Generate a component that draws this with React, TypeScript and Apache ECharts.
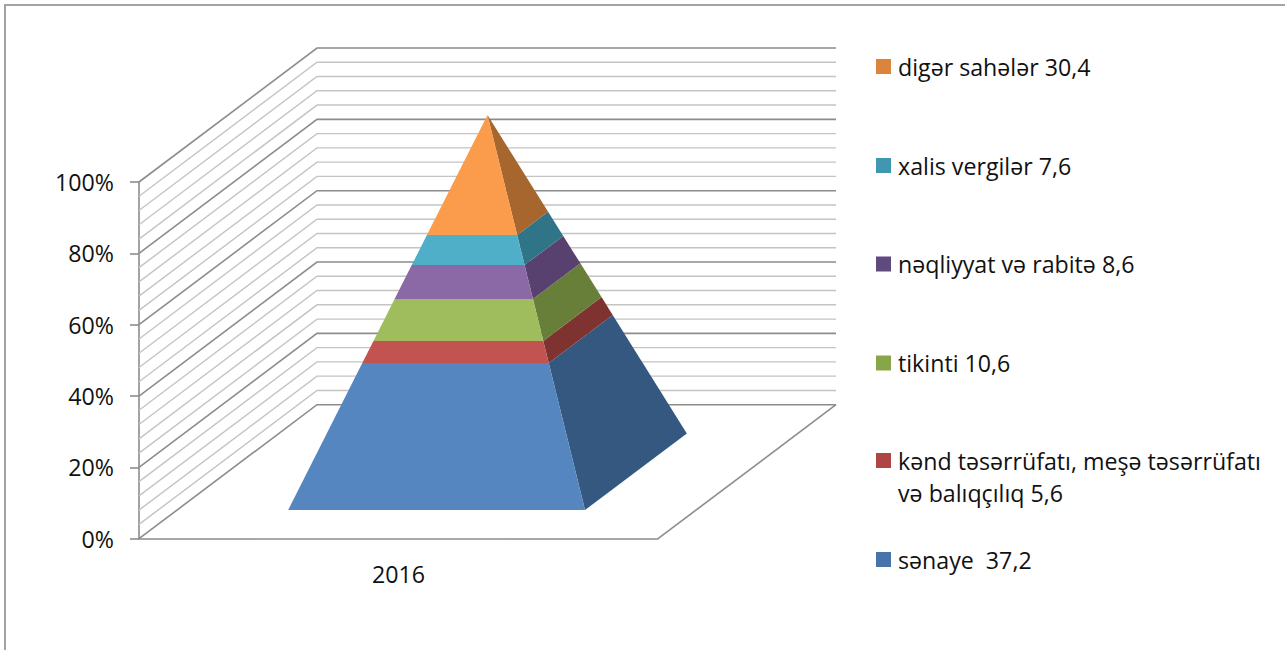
import React, { useEffect, useRef } from "react";
import * as echarts from "echarts";

const years = ["2016"];
const seriesNames = [
  "sənaye  37,2",
  "kənd təsərrüfatı, meşə təsərrüfatı",
  "tikinti 10,6",
  "nəqliyyat və rabitə 8,6",
  "xalis vergilər 7,6",
  "digər sahələr 30,4",
];
const seriesValues = [37.2, 5.6, 10.6, 8.6, 7.6, 30.4];
const legendContinuation = "və balıqçılıq 5,6";
const legendColors = ["#4774aa", "#ae4744", "#88a54c", "#5f4a80", "#3f98b0", "#dd843c"];
const frontColors = ["#5586bf", "#c25350", "#a0bd5e", "#8a69a6", "#4fafc8", "#fb9c4c"];
const sideColors = ["#355880", "#7f3331", "#687f3a", "#59416f", "#2f7487", "#a7662e"];
const wallTicks = [0, 4, 8, 12, 16, 20, 24, 28, 32, 36, 40, 44, 48, 52, 56, 60, 64, 68, 72, 76, 80, 84, 88, 92, 96, 100];
const legendCentres = [559.5, 460.5, 363, 264, 165.5, 66.5];

const FONT = "Open Sans";
const FONT_SIZE = 23.2;
const DEPTH_X = 178;
const DEPTH_Y = -134;
const PYRAMID_HALF = 0.286;
const MAJOR = "#8c8c8c";
const MINOR = "#c4c4c4";

function cumulative(values: number[]) {
  let sum = 0;
  return values.map((v) => {
    const start = sum;
    sum += v;
    return [years[0], start, sum];
  });
}

// Floor position (u across, w into the depth, both 0..1) and value => pixel
function project(api: any, grid: any, u: number, w: number, value: number) {
  const [, y] = api.coord([years[0], value]);
  return [grid.x + u * grid.width + w * DEPTH_X, y + w * DEPTH_Y];
}

function renderWall(params: any, api: any) {
  const grid = params.coordSys;
  const value = api.value(0);
  const major = value % 20 === 0;
  const front = project(api, grid, 0, 0, value);
  const back = project(api, grid, 0, 1, value);
  const end = project(api, grid, 1, 1, value);
  const style = { stroke: major ? MAJOR : MINOR, lineWidth: major ? 1.6 : 1.4, fill: "none" };
  const children: any[] = [{ type: "polyline", shape: { points: [front, back, end] }, style }];
  if (value === 0) {
    const right = project(api, grid, 1, 0, value);
    children.push({ type: "polyline", shape: { points: [right, end] }, style });
  }
  return { type: "group", children };
}

function layerRenderer(index: number) {
  return (params: any, api: any) => {
    const grid = params.coordSys;
    const start = api.value(1);
    const end = api.value(2);
    const half = (v: number) => PYRAMID_HALF * (1 - v / 100);
    const corner = (v: number, su: number, sw: number) =>
      project(api, grid, 0.5 + su * half(v), 0.5 + sw * half(v), v);
    const front = [corner(start, -1, -1), corner(start, 1, -1), corner(end, 1, -1), corner(end, -1, -1)];
    const side = [corner(start, 1, -1), corner(start, 1, 1), corner(end, 1, 1), corner(end, 1, -1)];
    return {
      type: "group",
      children: [
        { type: "polygon", shape: { points: side }, style: { fill: sideColors[index] } },
        { type: "polygon", shape: { points: front }, style: { fill: frontColors[index] } },
      ],
    };
  };
}

export default function App() {
  const ref = useRef<HTMLDivElement>(null);
  useEffect(() => {
    document.body.style.margin = "0";
    const chart = echarts.init(ref.current!, undefined, { renderer: "svg" });
    const ranges = cumulative(seriesValues);
    chart.setOption({
      animation: false,
      backgroundColor: "#fff",
      textStyle: { fontFamily: FONT },
      grid: { left: 139, top: 182, width: 519, height: 356.7 },
      xAxis: {
        type: "category",
        data: years,
        axisLine: { show: true, lineStyle: { color: MAJOR, width: 1.6 } },
        axisTick: { show: false },
        axisLabel: { color: "#111", fontFamily: FONT, fontSize: FONT_SIZE, margin: 24 },
      },
      yAxis: {
        type: "value",
        min: 0,
        max: 100,
        interval: 20,
        axisLine: { show: true, lineStyle: { color: MAJOR, width: 1.6 } },
        axisTick: { show: true, length: 9, lineStyle: { color: MAJOR, width: 1.6 } },
        axisLabel: { color: "#111", fontFamily: FONT, fontSize: FONT_SIZE, margin: 25, formatter: "{value}%" },
        splitLine: { show: false },
      },
      legend: seriesNames.map((name, i) => ({
        data: [name],
        orient: "vertical",
        left: 876,
        top: legendCentres[i] - 15,
        padding: 0,
        icon: "rect",
        itemWidth: 15,
        itemHeight: 15,
        selectedMode: false,
        textStyle: { color: "#111", fontFamily: FONT, fontSize: FONT_SIZE, padding: [0, 0, 4, 2], lineHeight: 26 },
      })),
      graphic: [
        {
          type: "rect",
          silent: true,
          shape: { x: 5, y: 5, width: 1320, height: 680 },
          style: { fill: "none", stroke: "#a3a3a3", lineWidth: 2 },
        },
        {
          type: "text",
          silent: true,
          x: 898,
          y: 493,
          style: { text: legendContinuation, fill: "#111", font: `${FONT_SIZE}px ${FONT}`, textVerticalAlign: "middle" },
        },
      ],
      series: [
        {
          type: "custom",
          name: "walls",
          silent: true,
          clip: false,
          z: 1,
          data: wallTicks.map((v) => [v]),
          encode: { y: 0 },
          renderItem: renderWall,
        },
        ...seriesNames.map((name, i) => ({
          type: "custom",
          name,
          clip: false,
          z: 2,
          itemStyle: { color: legendColors[i] },
          data: [ranges[i]],
          encode: { x: 0, y: [1, 2] },
          renderItem: layerRenderer(i),
        })),
      ],
    });
    return () => chart.dispose();
  }, []);
  return <div ref={ref} style={{ width: 1285, height: 650 }} />;
}
